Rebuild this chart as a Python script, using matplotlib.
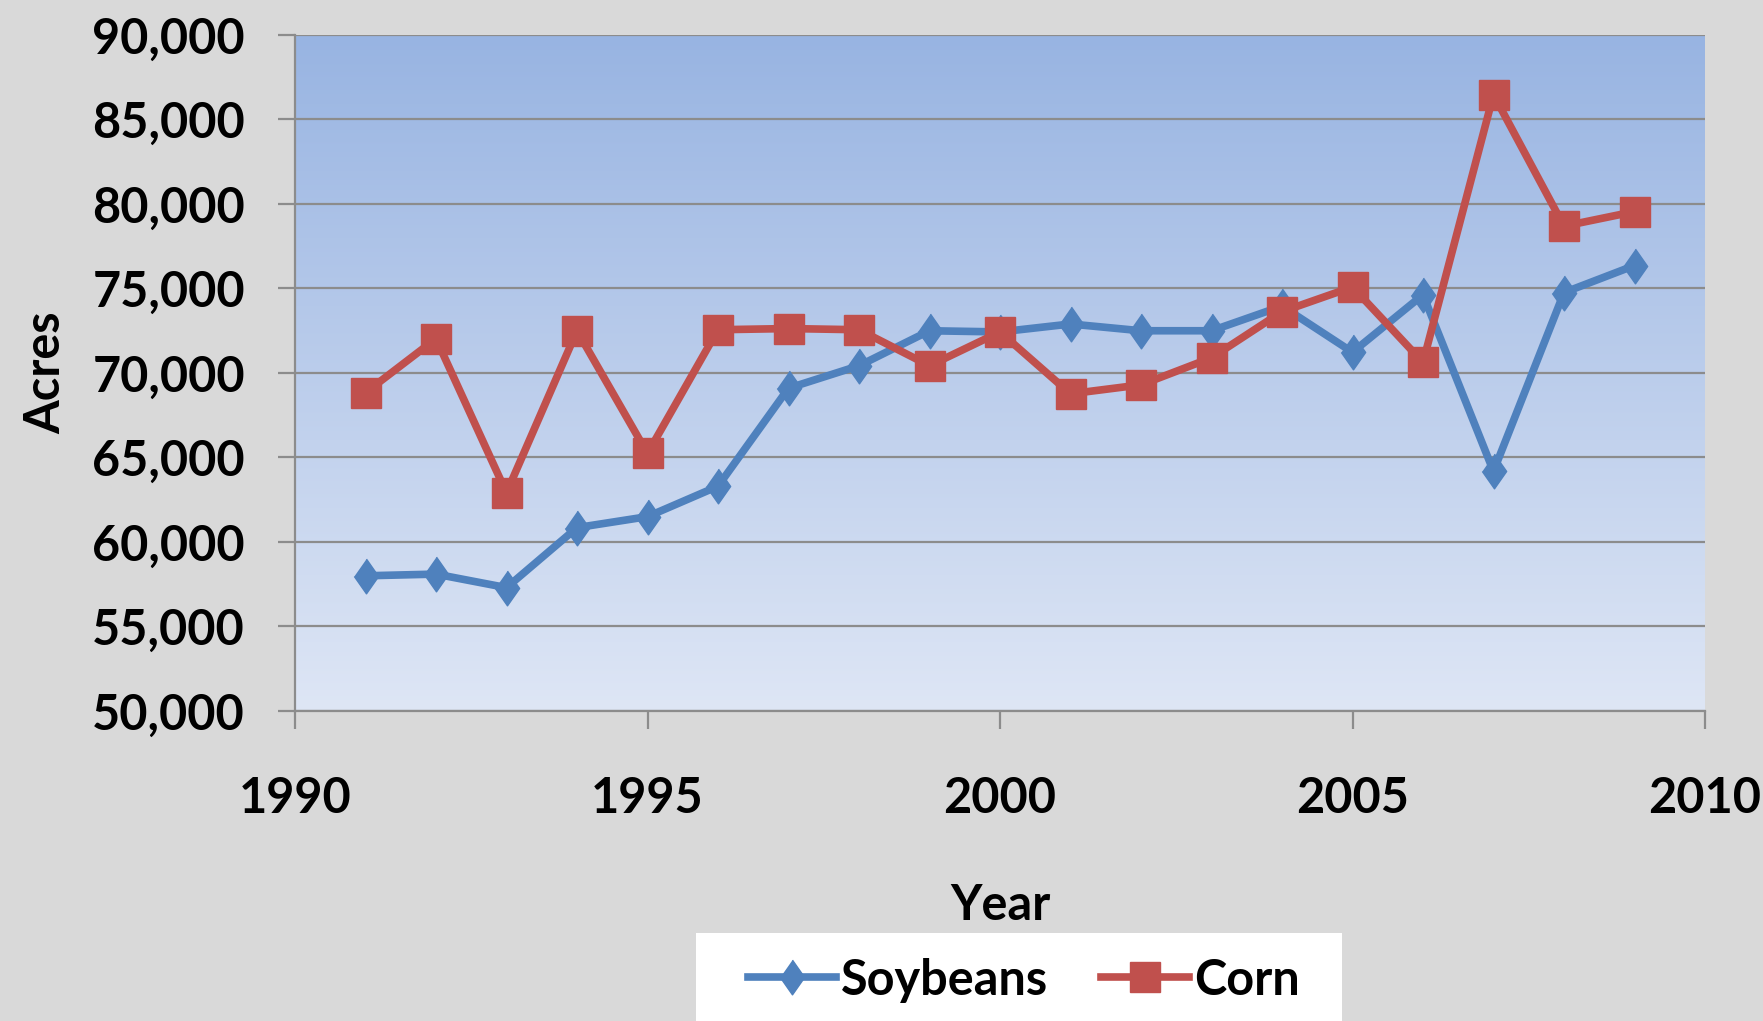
import numpy as np
import matplotlib
matplotlib.use("Agg")
import matplotlib.pyplot as plt
from matplotlib.ticker import FuncFormatter
from matplotlib.colors import LinearSegmentedColormap
from matplotlib.patches import Rectangle

years = list(range(1991, 2010))
soybeans = [58000, 58100, 57300, 60850, 61500, 63300, 69100, 70430, 72500, 72430,
            72900, 72500, 72500, 73960, 71230, 74630, 64180, 74760, 76360]
corn = [68840, 72030, 62910, 72500, 65240, 72560, 72630, 72560, 70430, 72430,
        68770, 69300, 70900, 73630, 75090, 70630, 86470, 78690, 79550]

plt.rcParams['font.family'] = ['Lato', 'DejaVu Sans']
plt.rcParams['font.weight'] = 'bold'
plt.rcParams['axes.labelweight'] = 'bold'

W, H = 1763, 1021
fig = plt.figure(figsize=(W / 100, H / 100), dpi=100, facecolor='#d9d9d9')
ax = fig.add_axes([295 / W, 1 - 711 / H, (1705 - 295) / W, (711 - 35) / H])
ax.set_facecolor('none')

# fondo degradado
grad = LinearSegmentedColormap.from_list('g', ['#dee6f5', '#98b4e2'])
ax.imshow(np.linspace(0, 1, 256).reshape(-1, 1), cmap=grad, origin='lower',
          extent=[1990, 2010, 50000, 90000], aspect='auto', zorder=0)

ax.set_xlim(1990, 2010)
ax.set_ylim(50000, 90000)
ax.set_xticks(range(1990, 2011, 5))
ax.set_yticks(range(50000, 90001, 5000))
ax.yaxis.set_major_formatter(FuncFormatter(lambda v, p: f"{int(v):,}"))
ax.grid(axis='y', color='#8c8c8c', linewidth=1.6, zorder=1)
ax.set_axisbelow(True)

for s in ['top', 'right']:
    ax.spines[s].set_visible(False)
for s in ['left', 'bottom']:
    ax.spines[s].set_color('#8c8c8c')
    ax.spines[s].set_linewidth(1.6)

ax.tick_params(axis='y', length=12, width=1.6, color='#8c8c8c', pad=24, labelsize=35)
ax.tick_params(axis='x', length=13, width=1.6, color='#8c8c8c', pad=34, labelsize=35)

diamond = [(0, 1), (0.7, 0), (0, -1), (-0.7, 0)]
ax.plot(years, soybeans, color='#4f81bd', linewidth=5.5, marker=diamond,
        markersize=25, label='Soybeans', zorder=3)
ax.plot(years, corn, color='#c0504d', linewidth=5.5, marker='s',
        markersize=21, label='Corn', zorder=4)

ax.set_xlabel('Year', fontsize=35, fontweight='bold')
ax.set_ylabel('Acres', fontsize=35, fontweight='bold', labelpad=17)
ax.xaxis.label.set_va('center')
ax.xaxis.set_label_coords(0.5, (711 - 905) / 676)

fig.patches.append(Rectangle((696 / W, 0), (1342 - 696) / W, (1021 - 933) / H,
                             transform=fig.transFigure, facecolor='white',
                             edgecolor='none', zorder=0))
fig.legend(loc='center', bbox_to_anchor=(1024 / W, 1 - 980 / H), ncol=2,
           frameon=False, handlelength=1.8, handletextpad=0.1,
           columnspacing=1.1, prop={'weight': 'bold', 'size': 35})

fig.savefig('out.png', dpi=100, facecolor=fig.get_facecolor())
